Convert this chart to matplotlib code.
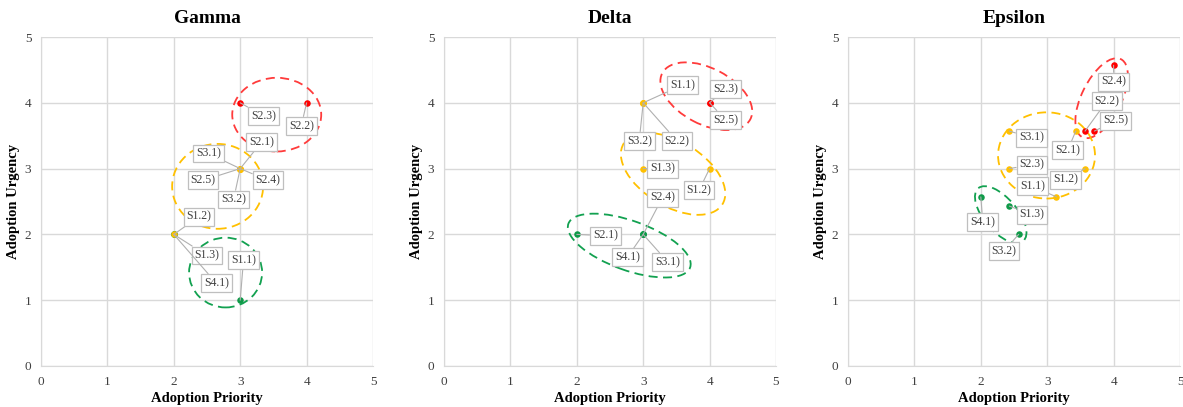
import matplotlib
matplotlib.use("Agg")
import matplotlib.pyplot as plt
from matplotlib.patches import Ellipse

plt.rcParams['font.family'] = ['Liberation Serif', 'DejaVu Serif']

# ---------------- data ----------------
panel_titles = ["Gamma", "Delta", "Epsilon"]

gamma_labels = ["S2.3)", "S2.2)", "S2.1)", "S3.1)", "S2.5)", "S2.4)", "S3.2)", "S1.2)", "S1.3)", "S4.1)", "S1.1)"]
gamma_x = [3, 4, 3, 3, 3, 3, 3, 2, 2, 2, 3]
gamma_y = [4, 4, 3, 3, 3, 3, 3, 2, 2, 2, 1]
gamma_grp = ["red", "red", "orange", "orange", "orange", "orange", "orange", "orange", "green", "green", "green"]

delta_labels = ["S1.1)", "S3.2)", "S2.2)", "S2.3)", "S2.5)", "S1.3)", "S1.2)", "S2.4)", "S2.1)", "S4.1)", "S3.1)"]
delta_x = [3, 3, 3, 4, 4, 3, 4, 3, 2, 3, 3]
delta_y = [4, 4, 4, 4, 4, 3, 3, 2, 2, 2, 2]
delta_grp = ["orange", "orange", "orange", "red", "red", "orange", "orange", "green", "green", "green", "green"]

epsilon_labels = ["S2.4)", "S2.2)", "S2.5)", "S2.1)", "S3.1)", "S2.3)", "S1.2)", "S1.1)", "S4.1)", "S1.3)", "S3.2)"]
epsilon_x = [4.00, 3.57, 3.71, 3.43, 2.43, 2.43, 3.57, 3.14, 2.00, 2.43, 2.57]
epsilon_y = [4.57, 3.57, 3.57, 3.57, 3.57, 3.00, 3.00, 2.57, 2.57, 2.43, 2.00]
epsilon_grp = ["red", "red", "red", "orange", "orange", "orange", "orange", "orange", "green", "green", "green"]

ticks = [0, 1, 2, 3, 4, 5]

# ---------------- layout / style ----------------
label_pos = {
    "Gamma": [(3.35, 3.80), (3.92, 3.65), (3.32, 3.40), (2.52, 3.23), (2.44, 2.82), (3.42, 2.82),
              (2.90, 2.53), (2.38, 2.27), (2.50, 1.68), (2.64, 1.26), (3.05, 1.61)],
    "Delta": [(3.59, 4.27), (2.94, 3.42), (3.51, 3.42), (4.24, 4.21), (4.24, 3.74), (3.29, 3.00),
              (3.84, 2.67), (3.29, 2.56), (2.43, 1.98), (2.76, 1.65), (3.37, 1.58)],
    "Epsilon": [(4.00, 4.32), (3.90, 4.03), (4.03, 3.73), (3.31, 3.28), (2.76, 3.47), (2.77, 3.06),
                (3.28, 2.83), (2.78, 2.73), (2.03, 2.19), (2.77, 2.30), (2.35, 1.75)],
}
ellipses = {
    "Gamma": [(3.55, 3.82, 1.34, 1.12, 0, "red"), (2.66, 2.73, 1.37, 1.29, 0, "orange"),
              (2.78, 1.42, 1.10, 1.06, 0, "green")],
    "Delta": [(3.95, 4.10, 1.50, 0.85, -28, "red"), (3.45, 2.92, 1.75, 0.98, -32, "orange"),
              (2.79, 1.83, 1.95, 0.75, -20, "green")],
    "Epsilon": [(3.82, 4.07, 1.32, 0.60, 64, "red"), (2.99, 3.20, 1.46, 1.31, 0, "orange"),
                (2.30, 2.30, 1.05, 0.50, -50, "green")],
}
point_colors = {"red": "#ff0000", "orange": "#ffc000", "green": "#0e9a48"}
ellipse_colors = {"red": "#ff3b3b", "orange": "#ffc000", "green": "#12a150"}

panels = [
    ("Gamma", gamma_labels, gamma_x, gamma_y, gamma_grp),
    ("Delta", delta_labels, delta_x, delta_y, delta_grp),
    ("Epsilon", epsilon_labels, epsilon_x, epsilon_y, epsilon_grp),
]

fig = plt.figure(figsize=(11.83, 4.07), dpi=100)
lefts = [41 / 1183, 444 / 1183, 848 / 1183]
for (name, labels, xs, ys, grps), left in zip(panels, lefts):
    ax = fig.add_axes([left, 41 / 407, 332 / 1183, 329 / 407])
    ax.set_xlim(0, 5)
    ax.set_ylim(0, 5)
    ax.set_xticks(ticks)
    ax.set_yticks(ticks)
    ax.grid(True, color="#d9d9d9", lw=1.0)
    ax.set_axisbelow(True)
    for s in ax.spines.values():
        s.set_visible(False)
    ax.spines["left"].set_visible(True)
    ax.spines["bottom"].set_visible(True)
    ax.spines["left"].set_color("#d9d9d9")
    ax.spines["bottom"].set_color("#d9d9d9")
    ax.tick_params(length=0, labelsize=9.5, colors="#404040", pad=7)
    ax.set_title(name, fontsize=14, fontweight="bold", pad=10)
    ax.set_xlabel("Adoption Priority", fontsize=10.5, fontweight="bold")
    ax.set_ylabel("Adoption Urgency", fontsize=10.5, fontweight="bold")
    ax.xaxis.set_label_coords(0.5, -0.078)
    ax.yaxis.set_label_coords(-0.062, 0.5)

    for (cx, cy, w, h, ang, c) in ellipses[name]:
        ax.add_patch(Ellipse((cx, cy), w, h, angle=ang, fill=False, ls=(0, (5, 3)),
                             lw=1.3, ec=ellipse_colors[c], zorder=3))

    for g in ["green", "orange", "red"]:
        gx = [x for x, gg in zip(xs, grps) if gg == g]
        gy = [y for y, gg in zip(ys, grps) if gg == g]
        ax.scatter(gx, gy, s=22, color=point_colors[g], zorder=5, linewidths=0)

    for lab, x, y, (tx, ty) in zip(labels, xs, ys, label_pos[name]):
        ax.annotate(lab, xy=(x, y), xytext=(tx, ty), textcoords="data",
                    ha="center", va="center", fontsize=8.5, color="#404040",
                    bbox=dict(boxstyle="square,pad=0.25", fc="white", ec="#bfbfbf", lw=0.9),
                    arrowprops=dict(arrowstyle="-", color="#b0b0b0", lw=0.8,
                                    shrinkA=0, shrinkB=0),
                    zorder=6)

fig.savefig("out.png", dpi=100)
